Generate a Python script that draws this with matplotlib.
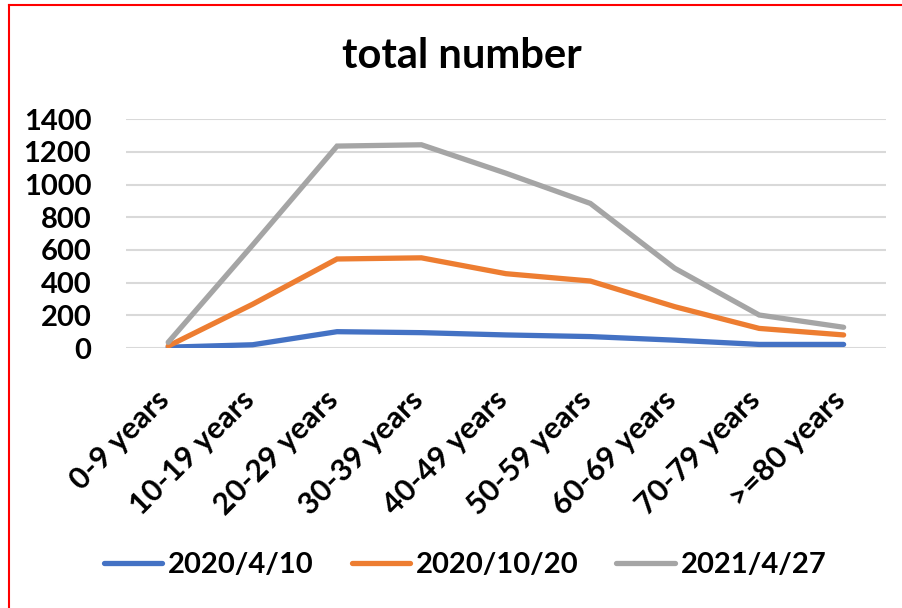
import matplotlib
matplotlib.use("Agg")
import matplotlib.pyplot as plt
from matplotlib.lines import Line2D
from matplotlib.transforms import ScaledTranslation

# ── Data ──────────────────────────────────────────────────────────────────────
AGE_GROUPS = ["0-9 years", "10-19 years", "20-29 years", "30-39 years",
              "40-49 years", "50-59 years", "60-69 years", "70-79 years",
              ">=80 years"]
S_2020_04_10 = [5, 20, 100, 94, 80, 70, 48, 22, 22]
S_2020_10_20 = [12, 268, 545, 552, 455, 410, 253, 120, 80]
S_2021_04_27 = [35, 630, 1236, 1244, 1070, 885, 488, 202, 127]
SERIES_NAMES = ["2020/4/10", "2020/10/20", "2021/4/27"]
COLORS = ["#4472C4", "#ED7D31", "#A5A5A5"]
Y_TICKS = [0, 200, 400, 600, 800, 1000, 1200, 1400]

FONT = "Lato"

fig = plt.figure(figsize=(9.03, 6.08), dpi=100)
ax = fig.add_axes([0.1395, 0.4276, 0.8415, 0.3762])

x = list(range(len(AGE_GROUPS)))
for vals, name, color in zip([S_2020_04_10, S_2020_10_20, S_2021_04_27],
                             SERIES_NAMES, COLORS):
    ax.plot(x, vals, color=color, lw=3.8, label=name,
            solid_capstyle="round", solid_joinstyle="miter")

ax.set_xlim(-0.5, len(AGE_GROUPS) - 0.5)
ax.set_ylim(0, 1400)
ax.set_yticks(Y_TICKS)
ax.set_yticklabels([str(v) for v in Y_TICKS], fontname=FONT,
                   fontweight="bold", fontsize=21)
ax.set_xticks(x)
ax.set_xticklabels(AGE_GROUPS, rotation=45, ha="right", va="top",
                   rotation_mode="anchor", fontname=FONT,
                   fontweight="bold", fontsize=22)
ax.tick_params(axis="both", length=0)
ax.tick_params(axis="y", pad=25)
ax.tick_params(axis="x", pad=27)
# nudge rotated labels left so they end under their category
shift = ScaledTranslation(-13 / 100, 0, fig.dpi_scale_trans)
for lbl in ax.get_xticklabels():
    lbl.set_transform(lbl.get_transform() + shift)
ax.grid(axis="y", color="#D9D9D9", lw=1.5)
ax.set_axisbelow(True)
for s in ax.spines.values():
    s.set_visible(False)

fig.text(0.512, 0.908, "total number", ha="center", va="center",
         fontname=FONT, fontweight="bold", fontsize=30)

handles = [Line2D([], [], color=c, lw=3.8, solid_capstyle="round")
           for c in COLORS]
fig.legend(handles, SERIES_NAMES, loc="center", bbox_to_anchor=(0.515, 0.07),
           ncol=3, frameon=False, handlelength=2.0, handletextpad=0.2,
           columnspacing=1.3,
           prop={"family": FONT, "weight": "bold", "size": 21})

# red frame on top and left edges
fig.add_artist(Line2D([0.0105, 0.0105], [0, 0.992], color="red", lw=1.5,
                      transform=fig.transFigure))
fig.add_artist(Line2D([0.0105, 1.0], [0.992, 0.992], color="red", lw=1.5,
                      transform=fig.transFigure))

fig.savefig("out.png", dpi=100)
